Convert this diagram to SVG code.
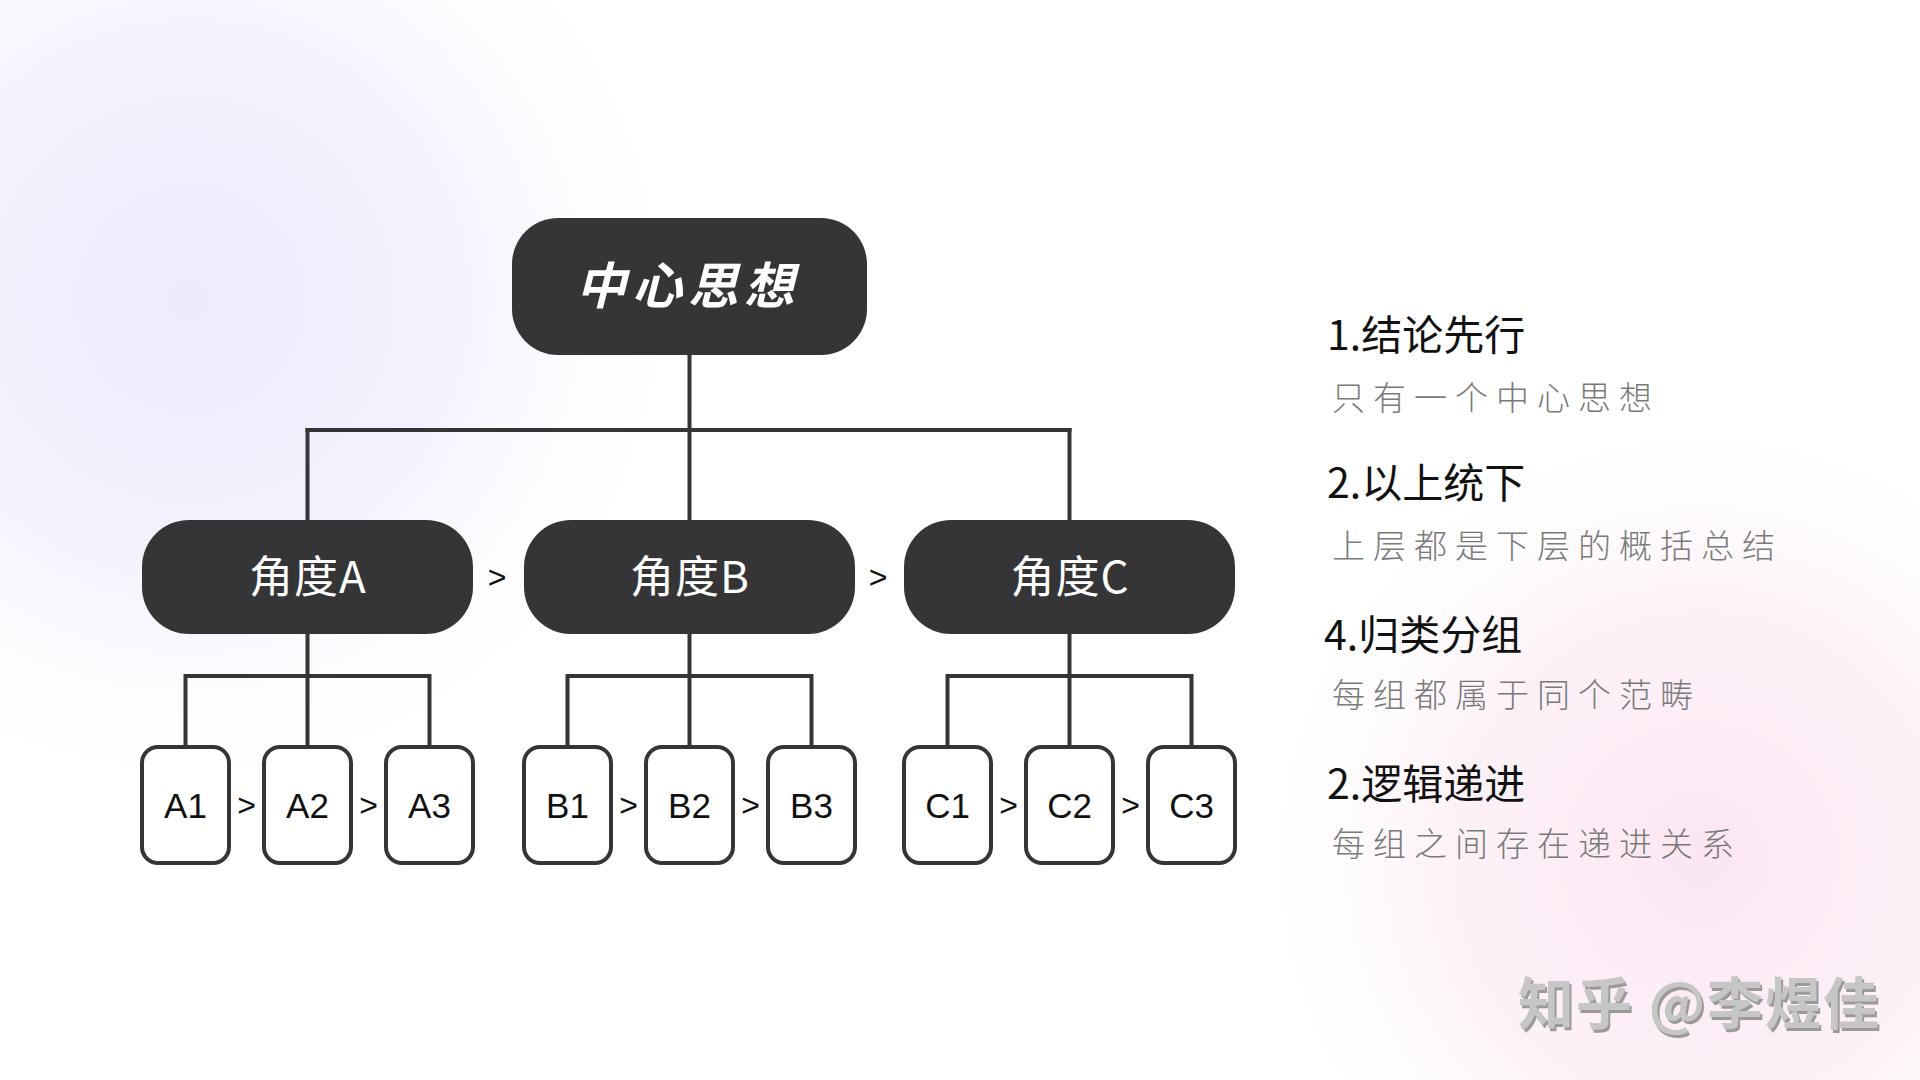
<svg xmlns="http://www.w3.org/2000/svg" width="1920" height="1080" viewBox="0 0 1920 1080">
<defs>
<radialGradient id="bgL" cx="190" cy="300" r="520" gradientUnits="userSpaceOnUse">
<stop offset="0" stop-color="#efeafd" stop-opacity="1"/>
<stop offset="0.5" stop-color="#f2eefd" stop-opacity="0.8"/>
<stop offset="1" stop-color="#ffffff" stop-opacity="0"/>
</radialGradient>
<radialGradient id="bgR" cx="1700" cy="860" r="460" gradientUnits="userSpaceOnUse">
<stop offset="0" stop-color="#fbe6f2" stop-opacity="1"/>
<stop offset="0.55" stop-color="#fcecf5" stop-opacity="0.7"/>
<stop offset="1" stop-color="#ffffff" stop-opacity="0"/>
</radialGradient>
<filter id="wm" x="-5%" y="-20%" width="115%" height="150%">
<feDropShadow dx="2" dy="3" stdDeviation="0.6" flood-color="#8a8a8a" flood-opacity="0.85"/>
</filter>
<style>
.node{fill:#353537;}
.leaf{fill:#ffffff;stroke:#353537;stroke-width:4;}
.conn{fill:none;stroke:#353537;stroke-width:4;stroke-linecap:square;}
.lbl{fill:#ffffff;font-family:"Noto Sans CJK SC","Noto Sans",sans-serif;font-size:44px;text-anchor:middle;letter-spacing:1px;}
.top{fill:#ffffff;font-family:"Noto Sans CJK SC","Noto Sans",sans-serif;font-size:50px;font-weight:700;font-style:italic;letter-spacing:6px;text-anchor:middle;}
.leafT{fill:#111111;font-family:"Liberation Sans",Arial,sans-serif;font-size:35px;text-anchor:middle;}
.gt{fill:#111111;font-family:"Liberation Sans",Arial,sans-serif;font-size:32px;text-anchor:middle;}
.title{fill:#111111;font-family:"Noto Sans CJK SC","Noto Sans",sans-serif;font-size:41px;font-weight:400;}
.sub{fill:#7a7a7a;font-family:"Noto Sans CJK SC","Noto Sans",sans-serif;font-size:33px;font-weight:300;letter-spacing:8px;}
.wmt{fill:#c6c6c6;font-family:"Noto Sans CJK SC","Noto Sans",sans-serif;font-size:56px;font-weight:700;letter-spacing:2px;}
</style>
</defs>

<rect x="0" y="0" width="1920" height="1080" fill="#ffffff"/>
<rect x="0" y="0" width="1920" height="1080" fill="url(#bgL)"/>
<rect x="0" y="0" width="1920" height="1080" fill="url(#bgR)"/>

<g id="connectors">
<path class="conn" d="M689.5 355 V520"/>
<path class="conn" d="M307.5 430 H1069.5"/>
<path class="conn" d="M307.5 430 V520"/>
<path class="conn" d="M1069.5 430 V520"/>
<path class="conn" d="M307.5 634 V747 M185.5 676 H429.5 M185.5 676 V747 M429.5 676 V747"/>
<path class="conn" d="M689.5 634 V747 M567.5 676 H811.5 M567.5 676 V747 M811.5 676 V747"/>
<path class="conn" d="M1069.5 634 V747 M947.5 676 H1191.5 M947.5 676 V747 M1191.5 676 V747"/>
</g>

<g id="root">
<rect class="node" x="512" y="218" width="355" height="137" rx="46" ry="46"/>
<text class="top" x="688" y="304">中心思想</text>
</g>

<g id="nodeA">
<rect class="node" x="142" y="520" width="331" height="114" rx="47" ry="47"/>
<text class="lbl" x="308" y="593">角度A</text>
</g>
<g id="nodeB">
<rect class="node" x="524" y="520" width="331" height="114" rx="47" ry="47"/>
<text class="lbl" x="690" y="593">角度B</text>
</g>
<g id="nodeC">
<rect class="node" x="904" y="520" width="331" height="114" rx="47" ry="47"/>
<text class="lbl" x="1070" y="593">角度C</text>
</g>

<g id="gtNodes">
<text class="gt" x="497" y="588">&gt;</text>
<text class="gt" x="878" y="588">&gt;</text>
</g>

<g id="leafA1"><rect class="leaf" x="142" y="747" width="87" height="116" rx="16" ry="16"/><text class="leafT" x="185.5" y="818">A1</text></g>
<g id="leafA2"><rect class="leaf" x="264" y="747" width="87" height="116" rx="16" ry="16"/><text class="leafT" x="307.5" y="818">A2</text></g>
<g id="leafA3"><rect class="leaf" x="386" y="747" width="87" height="116" rx="16" ry="16"/><text class="leafT" x="429.5" y="818">A3</text></g>
<g id="leafB1"><rect class="leaf" x="524" y="747" width="87" height="116" rx="16" ry="16"/><text class="leafT" x="567.5" y="818">B1</text></g>
<g id="leafB2"><rect class="leaf" x="646" y="747" width="87" height="116" rx="16" ry="16"/><text class="leafT" x="689.5" y="818">B2</text></g>
<g id="leafB3"><rect class="leaf" x="768" y="747" width="87" height="116" rx="16" ry="16"/><text class="leafT" x="811.5" y="818">B3</text></g>
<g id="leafC1"><rect class="leaf" x="904" y="747" width="87" height="116" rx="16" ry="16"/><text class="leafT" x="947.5" y="818">C1</text></g>
<g id="leafC2"><rect class="leaf" x="1026" y="747" width="87" height="116" rx="16" ry="16"/><text class="leafT" x="1069.5" y="818">C2</text></g>
<g id="leafC3"><rect class="leaf" x="1148" y="747" width="87" height="116" rx="16" ry="16"/><text class="leafT" x="1191.5" y="818">C3</text></g>

<g id="gtLeaves">
<text class="gt" x="246.5" y="816">&gt;</text>
<text class="gt" x="368.5" y="816">&gt;</text>
<text class="gt" x="628.5" y="816">&gt;</text>
<text class="gt" x="750.5" y="816">&gt;</text>
<text class="gt" x="1008.5" y="816">&gt;</text>
<text class="gt" x="1130.5" y="816">&gt;</text>
</g>

<g id="notes">
<text class="title" x="1327" y="350">1.结论先行</text>
<text class="sub" x="1332" y="410">只有一个中心思想</text>
<text class="title" x="1327" y="498">2.以上统下</text>
<text class="sub" x="1332" y="558">上层都是下层的概括总结</text>
<text class="title" x="1324" y="650">4.归类分组</text>
<text class="sub" x="1332" y="707">每组都属于同个范畴</text>
<text class="title" x="1327" y="799">2.逻辑递进</text>
<text class="sub" x="1332" y="856">每组之间存在递进关系</text>
</g>

<g id="watermark">
<text class="wmt" x="1518" y="1024" filter="url(#wm)">知乎 @李煜佳</text>
</g>
</svg>
